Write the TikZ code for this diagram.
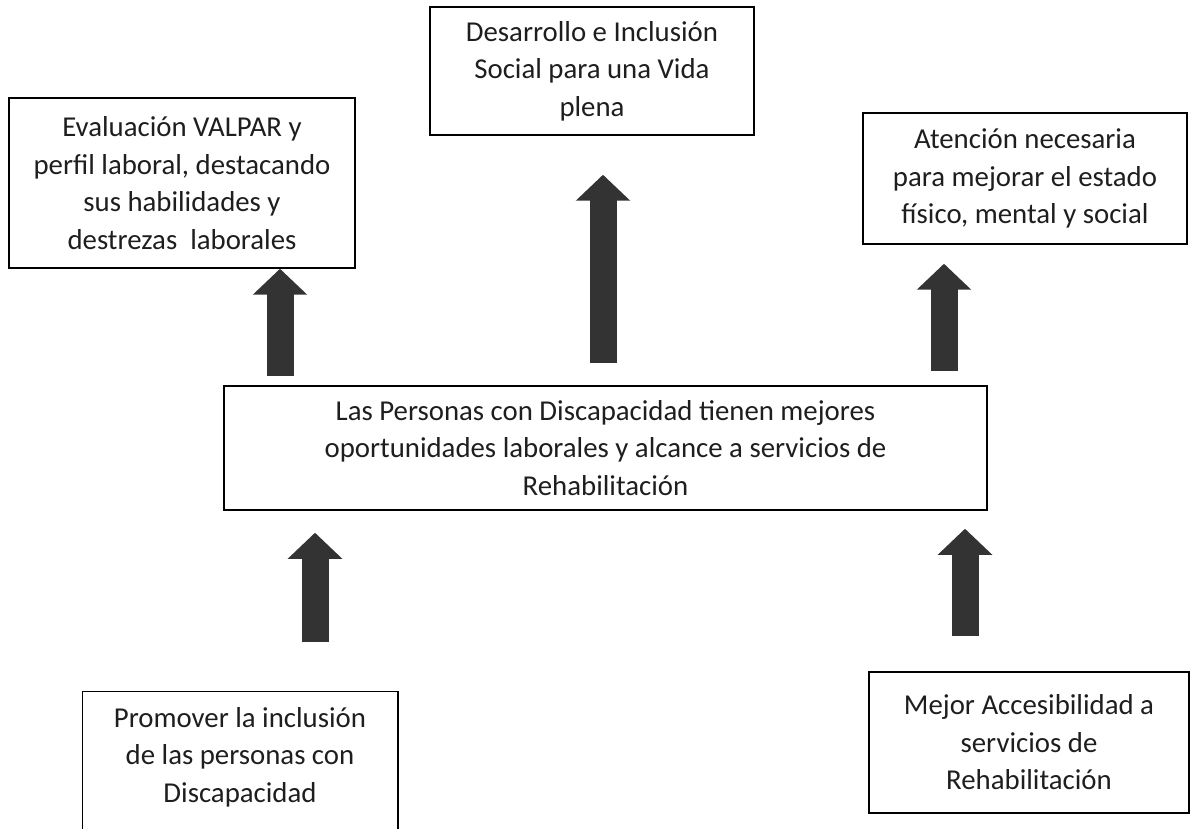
\documentclass[tikz,border=0pt]{standalone}
\usepackage{fontspec}
\setmainfont{Carlito}
\usetikzlibrary{arrows.meta,calc}
\definecolor{arrowgray}{HTML}{333333}
\definecolor{textgray}{HTML}{1E1E1E}
\tikzset{
  box/.style={draw, line width=0.75pt, inner sep=0pt, align=center,
    text=textgray, font=\fontsize{14.4}{18.75}\selectfont},
  blockarrow/.style={draw=arrowgray, line width=13.5pt,
    -{Triangle[width=26.5pt,length=13pt]}}
}
\begin{document}
\begin{tikzpicture}[x=0.5pt,y=-0.5pt]
\useasboundingbox (0,0) rectangle (1191,829);
\clip (0,0) rectangle (1191,829);
% boxes
\node[box, minimum width=173pt, minimum height=85pt] (eval) at (182,183)
  {Evaluación VALPAR y\\perfil laboral, destacando\\sus habilidades y\\destrezas\ \ laborales};
\node[box, minimum width=162pt, minimum height=64pt] (desa) at (592,71)
  {Desarrollo e Inclusión\\Social para una Vida\\plena};
\node[box, minimum width=162pt, minimum height=65.5pt] (aten) at (1025,178.5)
  {Atención necesaria\\para mejorar el estado\\físico, mental y social};
\node[box, minimum width=381.5pt, minimum height=62pt] (pers) at (605.5,448)
  {Las Personas con Discapacidad tienen mejores\\oportunidades laborales y alcance a servicios de\\Rehabilitación};
\node[box, draw=none, minimum width=157pt, minimum height=65pt] (prom) at (240,757)
  {Promover la inclusión\\de las personas con\\Discapacidad};
\draw[line width=0.75pt] ([yshift=-10pt]prom.south west) |- (prom.north east)
  -- ([yshift=-10pt]prom.south east);
\node[box, minimum width=160pt, minimum height=70.5pt] (mejo) at (1029,742.5)
  {Mejor Accesibilidad a\\servicios de\\Rehabilitación};
% arrows
\coordinate (xa) at (280,0);
\coordinate (xb) at (603,0);
\coordinate (xc) at (944,0);
\coordinate (xd) at (315,0);
\coordinate (xe) at (965,0);
\draw[blockarrow] ($(pers.north -| xa)+(0,-9)$) -- (eval.south -| xa);
\draw[blockarrow] ($(pers.north -| xb)+(0,-22)$) -- ($(desa.south -| xb)+(0,39)$);
\draw[blockarrow] ($(pers.north -| xc)+(0,-14)$) -- ($(aten.south -| xc)+(0,19)$);
\draw[blockarrow] ($(prom.north -| xd)+(0,-49)$) -- ($(pers.south -| xd)+(0,22)$);
\draw[blockarrow] ($(mejo.north -| xe)+(0,-35)$) -- ($(pers.south -| xe)+(0,18)$);
\end{tikzpicture}
\end{document}
